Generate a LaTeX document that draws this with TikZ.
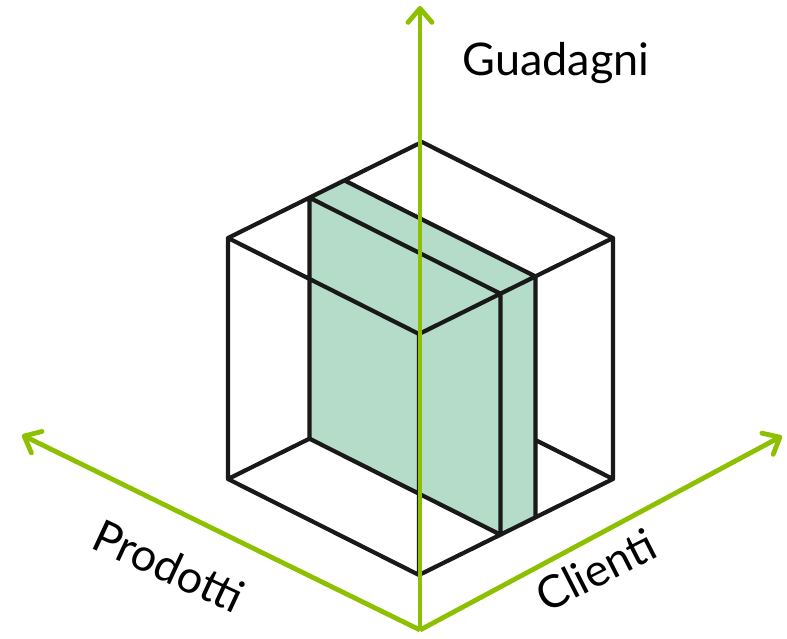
\documentclass[tikz,border=0pt]{standalone}
\usepackage{fontspec}
\setmainfont{Lato}
\usetikzlibrary{arrows.meta}
\definecolor{axisgreen}{RGB}{141,192,0}
\definecolor{slabfill}{RGB}{180,220,200}

\begin{document}
\begin{tikzpicture}[x=1pt,y=1pt,
    axis line/.style={draw=axisgreen,line width=4.8pt,-{Straight Barb[length=14pt,width=24pt,round]}},
    cube line/.style={draw=black!90,line width=4.2pt,line join=round,line cap=round},
    axis label/.style={font=\fontsize{45}{48}\selectfont,inner sep=0pt}]
    \useasboundingbox (0,0) rectangle (787,638);

    % the cube, drawn in its own axes
    \begin{scope}[shift={(419,63)},x={(-191pt,96pt)},y={(194pt,96pt)},z={(0pt,241pt)}]
        \coordinate (fb) at (0,0,0);
        \coordinate (ft) at (0,0,1);
        \coordinate (lb) at (1,0,0);
        \coordinate (lt) at (1,0,1);
        \coordinate (rb) at (0,1,0);
        \coordinate (rt) at (0,1,1);
        \coordinate (bt) at (1,1,1);
        \coordinate (bk) at (0.406,1,0);

        % the slab
        \coordinate (s1lb) at (1,0.42,0);
        \coordinate (s1lt) at (1,0.42,1);
        \coordinate (s1fb) at (0,0.42,0);
        \coordinate (s1ft) at (0,0.42,1);
        \coordinate (s2lt) at (1,0.6,1);
        \coordinate (s2ft) at (0,0.6,1);
        \coordinate (s2fb) at (0,0.6,0);

        \fill[slabfill] (s1lb) -- (s1lt) -- (s2lt) -- (s2ft) -- (s2fb) -- (s1fb) -- cycle;

        \path[cube line]
            (lt) -- (bt) -- (rt) -- (ft) -- cycle
            (lb) -- (lt)
            (fb) -- (ft)
            (rb) -- (rt)
            (lb) -- (fb) -- (rb)
            (lb) -- (s1lb)
            (bk) -- (rb)

            (s1lb) -- (s1lt) -- (s1ft) -- (s1fb) -- cycle
            (s2lt) -- (s2ft) -- (s2fb) -- (s1fb)
        ;
    \end{scope}

    % the three axes
    \coordinate (O) at (420,8);
    \coordinate (guadagni tip) at (420,632);
    \coordinate (prodotti tip) at (22,203);
    \coordinate (clienti tip) at (782,202);

    \draw[axis line] (O) -- (guadagni tip);
    \draw[axis line] (O) -- (prodotti tip);
    \draw[axis line] (O) -- (clienti tip);

    \node[axis label] (guadagni) at (556,575) {Guadagni};
    \node[axis label,rotate=-25] (prodotti) at (169,72) {Prodotti};
    \node[axis label,rotate=27] (clienti) at (596,68) {Clienti};
\end{tikzpicture}
\end{document}
